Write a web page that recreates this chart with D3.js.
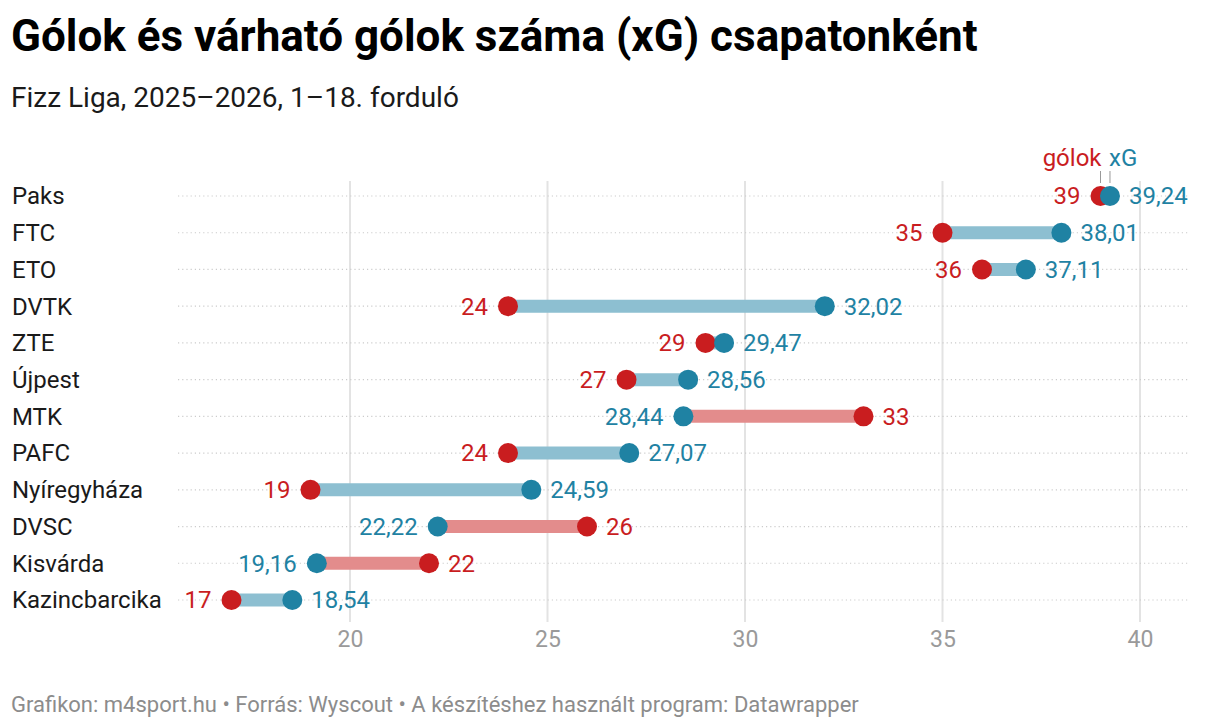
<!DOCTYPE html>
<html><head><meta charset="utf-8">
<script src="https://cdn.jsdelivr.net/npm/d3@7"></script>
<style>
body{margin:0;background:#fff;font-family:Roboto,"Noto Sans",sans-serif;}
svg text{font-family:Roboto,"Noto Sans",sans-serif;}
</style></head>
<body><svg id="c" width="1220" height="728"></svg>
<script>
const teams = ["Paks","FTC","ETO","DVTK","ZTE","Újpest","MTK","PAFC","Nyíregyháza","DVSC","Kisvárda","Kazincbarcika"];
const goals = [39,35,36,24,29,27,33,24,19,26,22,17];
const xg = [39.24,38.01,37.11,32.02,29.47,28.56,28.44,27.07,24.59,22.22,19.16,18.54];
const xTicks = [20,25,30,35,40];

const RED = "#c91d1f", BLUE = "#1f82a3", RED_BAR = "#e38c8c", BLUE_BAR = "#8dbfd1";
const data = teams.map((t,i)=>({team:t, g:goals[i], xg:xg[i]}));
const fmt = v => String(v).replace(".", ",");

const svg = d3.select("#c");
const x = d3.scaleLinear().domain([20,40]).range([350,1140]);
const y = d3.scalePoint().domain(teams).range([196,600]);

svg.append("text").attr("x",11).attr("y",51).attr("font-size",44).attr("font-weight",700).attr("fill","#000")
  .text("Gólok és várható gólok száma (xG) csapatonként");
svg.append("text").attr("x",11).attr("y",107).attr("font-size",28).attr("fill","#1a1a1a")
  .text("Fizz Liga, 2025–2026, 1–18. forduló");
svg.append("text").attr("x",11).attr("y",712).attr("font-size",22).attr("fill","#8c8c8c")
  .text("Grafikon: m4sport.hu • Forrás: Wyscout • A készítéshez használt program: Datawrapper");

// vertical grid
const gx = svg.append("g");
gx.selectAll("line").data(xTicks).join("line")
  .attr("x1",d=>x(d)).attr("x2",d=>x(d)).attr("y1",181).attr("y2",622)
  .attr("stroke","#e3e3e3").attr("stroke-width",2);
const axis = d3.axisBottom(x).tickValues(xTicks).tickSize(0).tickPadding(0).tickFormat(d3.format("d"));
const ag = svg.append("g").attr("transform","translate(0,631)").call(axis);
ag.select(".domain").remove();
ag.selectAll("text").attr("font-size",23).attr("fill","#9a9a9a").attr("dy","0.71em").attr("font-family","Roboto");

// horizontal dotted
svg.append("g").selectAll("line").data(teams).join("line")
  .attr("x1",178).attr("x2",1188).attr("y1",d=>y(d)).attr("y2",d=>y(d))
  .attr("stroke","#cccccc").attr("stroke-width",1.2).attr("stroke-dasharray","1.2,3");

// team labels
svg.append("g").selectAll("text").data(teams).join("text")
  .attr("x",12).attr("y",d=>y(d)).attr("dy","0.35em").attr("font-size",24).attr("fill","#1a1a1a").text(d=>d);

// bars
svg.append("g").selectAll("line").data(data).join("line")
  .attr("x1",d=>x(d.g)).attr("x2",d=>x(d.xg)).attr("y1",d=>y(d.team)).attr("y2",d=>y(d.team))
  .attr("stroke",d=>d.xg>d.g?BLUE_BAR:RED_BAR).attr("stroke-width",13);

// dots
svg.append("g").selectAll("circle").data(data).join("circle")
  .attr("cx",d=>x(d.g)).attr("cy",d=>y(d.team)).attr("r",10).attr("fill",RED);
svg.append("g").selectAll("circle").data(data).join("circle")
  .attr("cx",d=>x(d.xg)).attr("cy",d=>y(d.team)).attr("r",10).attr("fill",BLUE);

// value labels
const lab = svg.append("g").attr("font-size",24);
data.forEach(d=>{
  const lowG = d.g < d.xg;
  const lo = lowG ? {v:d.g, c:RED, s:String(d.g)} : {v:d.xg, c:BLUE, s:fmt(d.xg)};
  const hi = lowG ? {v:d.xg, c:BLUE, s:fmt(d.xg)} : {v:d.g, c:RED, s:String(d.g)};
  lab.append("text").attr("x",x(lo.v)-20).attr("y",y(d.team)).attr("dy","0.35em")
    .attr("text-anchor","end").attr("fill",lo.c).text(lo.s);
  lab.append("text").attr("x",x(hi.v)+19).attr("y",y(d.team)).attr("dy","0.35em")
    .attr("fill",hi.c).text(hi.s);
});

// legend
const p = data[0];
svg.append("line").attr("x1",x(p.g)).attr("x2",x(p.g)).attr("y1",171).attr("y2",183).attr("stroke","#999").attr("stroke-width",1);
svg.append("line").attr("x1",x(p.xg)).attr("x2",x(p.xg)).attr("y1",171).attr("y2",183).attr("stroke","#999").attr("stroke-width",1);
svg.append("text").attr("x",x(p.g)+1).attr("y",166).attr("text-anchor","end").attr("font-size",24).attr("fill",RED).text("gólok");
svg.append("text").attr("x",x(p.xg)-1).attr("y",166).attr("font-size",24).attr("fill",BLUE).text("xG");
</script></body></html>
